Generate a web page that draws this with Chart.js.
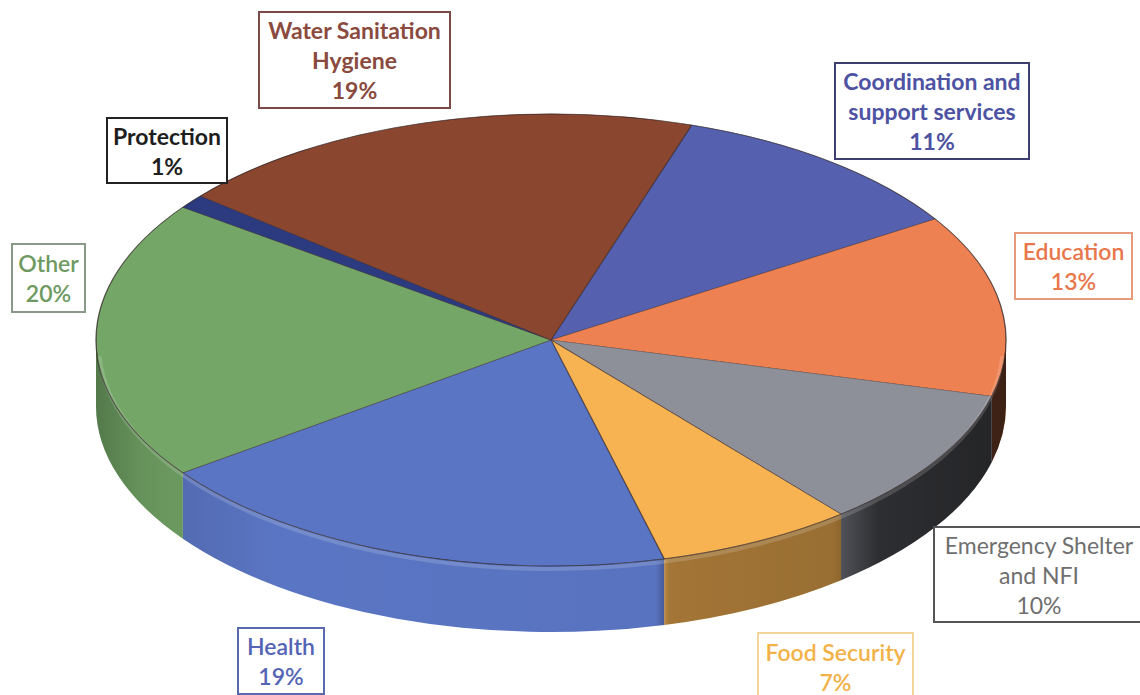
<!DOCTYPE html>
<html>
<head>
<meta charset="utf-8">
<script src="https://cdn.jsdelivr.net/npm/chart.js@4.4.1/dist/chart.umd.min.js"></script>
<style>
  html, body { margin: 0; padding: 0; background: #fff; }
  #wrap { position: relative; width: 1140px; height: 695px; overflow: hidden; }
  canvas { position: absolute; left: 0; top: 0; }
  .lbl {
    position: absolute; box-sizing: border-box; background: #fff;
    display: flex; align-items: center; justify-content: center; text-align: center;
    font-family: Lato, "Open Sans", sans-serif; font-size: 23px; line-height: 30px; font-weight: 700;
    border: 2px solid #555; white-space: nowrap;
  }
</style>
</head>
<body>
<div id="wrap">
  <canvas id="pieChart" width="1140" height="695"></canvas>
</div>
<script>
// data, clockwise from the top
const sectors = ["Coordination and support services", "Education", "Emergency Shelter and NFI", "Food Security", "Health", "Other", "Protection", "Water Sanitation Hygiene"];
const shares = [11, 13, 10, 7, 19, 20, 1, 19];
const topColors = ["#5560ae", "#ee8152", "#8d8f99", "#f7b252", "#5a75c3", "#74a767", "#2c3a80", "#8b4630"];

// label boxes (text lines come from sectors + shares)
const labelLines = [
  ["Coordination and", "support services"],
  ["Education"],
  ["Emergency Shelter", "and NFI"],
  ["Food Security"],
  ["Health"],
  ["Other"],
  ["Protection"],
  ["Water Sanitation", "Hygiene"]
];
const labelBoxes = [
  {l: 834, t: 62, w: 196, h: 98, c: "#4d52a3", b: "#3d3f72", fw: 700},
  {l: 1014, t: 232, w: 119, h: 68, c: "#e8774b", b: "#e59a7a", fw: 600},
  {l: 933, t: 526, w: 212, h: 97, c: "#6f6f6f", b: "#555", fw: 400},
  {l: 757, t: 632, w: 157, h: 70, c: "#f2b248", b: "#f3d49a", fw: 600},
  {l: 237, t: 627, w: 88, h: 68, c: "#5565b5", b: "#5a6ab0", fw: 600},
  {l: 11, t: 243, w: 75, h: 70, c: "#6e9a62", b: "#8a9a88", fw: 600},
  {l: 106, t: 117, w: 122, h: 67, c: "#1e1e1e", b: "#222", fw: 700},
  {l: 258, t: 11, w: 193, h: 98, c: "#8a4a3e", b: "#7a4a48", fw: 700}
];

// pie geometry on screen
const CX = 551, CY = 340, RX = 455, RY = 226, DEPTH = 66;

const wrap = document.getElementById("wrap");
for (let i = 0; i < sectors.length; i++) {
  const box = labelBoxes[i];
  const d = document.createElement("div");
  d.className = "lbl";
  d.style.left = box.l + "px"; d.style.top = box.t + "px";
  d.style.width = box.w + "px"; d.style.height = box.h + "px";
  d.style.color = box.c; d.style.borderColor = box.b; d.style.fontWeight = box.fw;
  d.innerHTML = labelLines[i].concat([shares[i] + "%"]).join("<br>");
  wrap.appendChild(d);
}

const tiltPlugin = {
  id: "tilt",
  beforeDatasetsDraw(chart) {
    const ctx = chart.ctx;
    const arcs = chart.getDatasetMeta(0).data;
    // the sides of the pie (only the front half is visible)
    const shade = ctx.createLinearGradient(CX - RX, 0, CX + RX, 0);
    shade.addColorStop(0, "rgba(0,0,0,0.28)");
    shade.addColorStop(0.05, "rgba(0,0,0,0.12)");
    shade.addColorStop(0.2, "rgba(0,0,0,0)");
    shade.addColorStop(0.615, "rgba(0,0,0,0.02)");
    shade.addColorStop(0.63, "rgba(0,0,0,0.34)");
    shade.addColorStop(0.81, "rgba(0,0,0,0.38)");
    shade.addColorStop(0.86, "rgba(0,0,0,0.68)");
    shade.addColorStop(1, "rgba(0,0,0,0.75)");
    ctx.save();
    arcs.forEach((arc, i) => {
      for (let k = -1; k <= 1; k++) {
        const a = Math.max(arc.startAngle, 2 * Math.PI * k);
        const b = Math.min(arc.endAngle, Math.PI + 2 * Math.PI * k);
        if (a >= b) continue;
        ctx.beginPath();
        ctx.ellipse(CX, CY, RX, RY, 0, a, b);
        ctx.ellipse(CX, CY + DEPTH, RX, RY, 0, b, a, true);
        ctx.closePath();
        ctx.fillStyle = topColors[i];
        ctx.fill();
        ctx.fillStyle = shade;
        ctx.fill();
      }
    });
    ctx.restore();

    // squash the flat pie into the top face
    const {x, y, outerRadius} = arcs[0];
    ctx.save();
    ctx.translate(CX, CY);
    ctx.scale(RX / outerRadius, RY / outerRadius);
    ctx.translate(-x, -y);
  },
  afterDatasetsDraw(chart) {
    const ctx = chart.ctx;
    ctx.restore();
    // soft bevel along the front rim
    ctx.save();
    ctx.beginPath();
    ctx.ellipse(CX, CY + 5, RX - 3, RY - 2, 0, 0.05, Math.PI - 0.05);
    ctx.strokeStyle = "rgba(255,255,255,0.16)";
    ctx.lineWidth = 4;
    ctx.stroke();
    ctx.beginPath();
    ctx.ellipse(CX, CY, RX, RY, 0, 0, 2 * Math.PI);
    ctx.strokeStyle = "rgba(40,30,30,0.45)";
    ctx.lineWidth = 1;
    ctx.stroke();
    ctx.restore();
  }
};

new Chart("pieChart", {
  type: "pie",
  data: {
    labels: sectors,
    datasets: [{
      data: shares,
      backgroundColor: topColors,
      borderColor: "rgba(50,35,35,0.55)",
      borderWidth: 1
    }]
  },
  options: {
    responsive: false,
    animation: false,
    rotation: 18,
    plugins: {
      legend: {display: false},
      tooltip: {enabled: false}
    }
  },
  plugins: [tiltPlugin]
});
</script>
</body>
</html>
